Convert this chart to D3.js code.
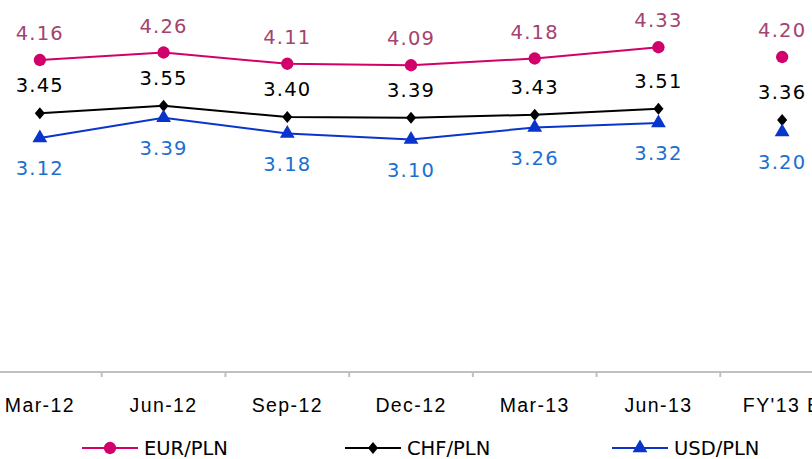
<!DOCTYPE html>
<html>
<head>
<meta charset="utf-8">
<script src="https://d3js.org/d3.v7.min.js"></script>
<style>
  body { margin: 0; background: #fff; }
  svg { display: block; font-family: "DejaVu Sans", sans-serif; }
  .lbl { font-size: 19.5px; letter-spacing: 1.2px; text-anchor: middle; }
  .axis text { font-size: 19.5px; letter-spacing: 1.4px; fill: #000; }
  .axis path, .axis line { stroke: #c0c0c0; stroke-width: 2px; }
</style>
</head>
<body>
<script>

// categories and series
var periods = ["Mar-12", "Jun-12", "Sep-12", "Dec-12", "Mar-13", "Jun-13", "FY'13 E"];
var eurPln = [4.16, 4.26, 4.11, 4.09, 4.18, 4.33, 4.20];
var chfPln = [3.45, 3.55, 3.40, 3.39, 3.43, 3.51, 3.36];
var usdPln = [3.12, 3.39, 3.18, 3.10, 3.26, 3.32, 3.20];
var legendNames = ["EUR/PLN", "CHF/PLN", "USD/PLN"];
// the last period is an estimate, drawn without a connecting line
var joined = 6;

var width = 812, height = 459;

var svg = d3.select("body").append("svg")
    .attr("width", width)
    .attr("height", height);

var x = d3.scaleBand().domain(periods).range([-22, 844]);
var y = d3.scaleLinear().domain([0, 5]).range([372, -3]);

function cx(i) { return x(periods[i]) + x.bandwidth() / 2; }

// x axis: labels centered, tick marks on the category borders
var axis = svg.append("g")
    .attr("class", "axis")
    .attr("transform", "translate(0," + y(0) + ")")
    .call(d3.axisBottom(x).tickSize(0).tickPadding(26).tickSizeOuter(0));
axis.select(".domain").attr("d", "M" + x.range()[0] + ",0H" + x.range()[1]);

axis.selectAll(".border")
    .data(periods.slice(1))
    .enter().append("line")
    .attr("class", "border")
    .attr("x1", function(d) { return x(d); })
    .attr("x2", function(d) { return x(d); })
    .attr("y1", 0)
    .attr("y2", 5);

var series = [
  { name: legendNames[0], values: eurPln, line: "#d2006b", text: "#a3436f", marker: "circle", dy: -20 },
  { name: legendNames[1], values: chfPln, line: "#000000", text: "#000000", marker: "diamond", dy: -21 },
  { name: legendNames[2], values: usdPln, line: "#0a35cc", text: "#1b70cf", marker: "triangle", dy: 37 }
];

// slightly tall diamond, like the original markers
var wideDiamond = {
  draw: function(ctx, size) {
    var w = Math.sqrt(size) * 0.7, h = w * 1.2;
    ctx.moveTo(0, -h);
    ctx.lineTo(w, 0);
    ctx.lineTo(0, h);
    ctx.lineTo(-w, 0);
    ctx.closePath();
  }
};

var symbols = {
  circle: d3.symbol().type(d3.symbolCircle).size(120),
  diamond: d3.symbol().type(wideDiamond).size(52),
  triangle: d3.symbol().type(d3.symbolTriangle).size(95)
};

var line = d3.line()
    .x(function(d, i) { return cx(i); })
    .y(function(d) { return y(d); });

series.forEach(function(s) {
  var g = svg.append("g");

  g.append("path")
    .datum(s.values.slice(0, joined))
    .attr("fill", "none")
    .attr("stroke", s.line)
    .attr("stroke-width", 2)
    .attr("d", line);

  g.selectAll(".pt")
    .data(s.values)
    .enter().append("path")
    .attr("class", "pt")
    .attr("transform", function(d, i) { return "translate(" + cx(i) + "," + y(d) + ")"; })
    .attr("fill", s.line)
    .attr("d", symbols[s.marker]);

  g.selectAll(".lbl")
    .data(s.values)
    .enter().append("text")
    .attr("class", "lbl")
    .attr("x", function(d, i) { return cx(i); })
    .attr("y", function(d) { return y(d) + s.dy; })
    .attr("fill", s.text)
    .text(function(d) { return d.toFixed(2); });
});

// legend
var legendX = [82, 345, 612];
var legend = svg.selectAll(".leg")
    .data(series)
    .enter().append("g")
    .attr("class", "leg")
    .attr("transform", function(d, i) { return "translate(" + legendX[i] + ",448)"; });

legend.append("line")
    .attr("x1", 0).attr("x2", 56)
    .attr("stroke", function(d) { return d.line; })
    .attr("stroke-width", 2);

legend.append("path")
    .attr("transform", "translate(28,0)")
    .attr("fill", function(d) { return d.line; })
    .attr("d", function(d) { return symbols[d.marker](); });

legend.append("text")
    .attr("x", 62)
    .attr("y", 7)
    .style("font-size", "19.5px")
    .text(function(d) { return d.name; });

</script>
</body>
</html>
